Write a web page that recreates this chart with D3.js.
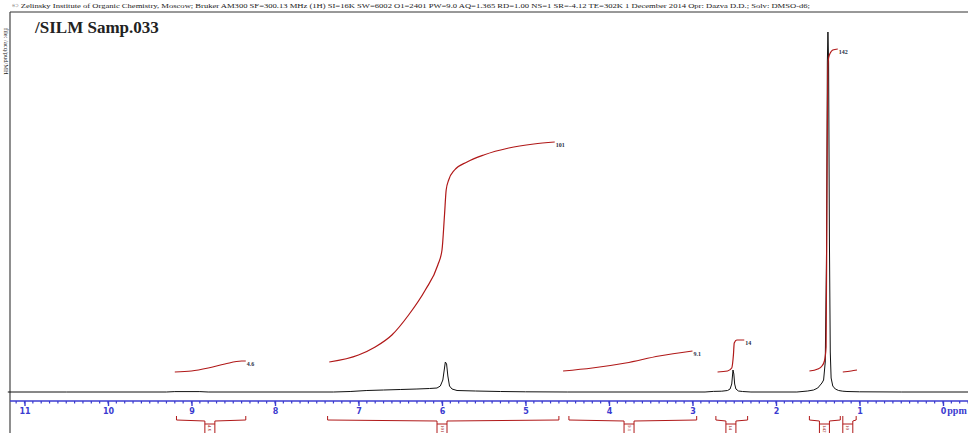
<!DOCTYPE html>
<html>
<head>
<meta charset="utf-8">
<title>/SILM Samp.033</title>
<style>
body { margin: 0; background: #fff; overflow: hidden; }
svg { display: block; }
.hdr { font-family: 'Liberation Serif', serif; font-size: 6.5px; fill: #222; }
.title { font-family: 'Liberation Serif', serif; font-weight: bold; font-size: 17px; fill: #222; }
.tick text { font-family: 'DejaVu Sans', sans-serif; font-weight: bold; font-size: 8px; fill: #3b3bd0; }
.intlab { font-family: 'Liberation Serif', serif; font-weight: bold; font-size: 6px; fill: #2a2f45; }
.brlab { font-family: 'Liberation Serif', serif; font-size: 5px; fill: #a01515; }
</style>
</head>
<body>
<div id="chart"></div>
<script src="https://d3js.org/d3.v7.min.js"></script>
<script>

var headerText = "\u00a9 Zelinsky Institute of Organic Chemistry, Moscow; Bruker AM300 SF=300.13 MHz (1H) SI=16K SW=6002 O1=2401 PW=9.0 AQ=1.365 RD=1.00 NS=1 SR=-4.12 TE=302K   1 December 2014  Opr: Dazva D.D.; Solv: DMSO-d6;";
var titleText = "/SILM Samp.033";
var sideText = "file: /acq/pud/MH";

var tickLabels = [11, 10, 9, 8, 7, 6, 5, 4, 3, 2, 1, 0];

// spectrum: [ppm, height]
var spectrum = [
  [11.2, 0], [10.5, 0], [9.3, 0], [9.2, 0.4], [8.9, 0.4], [8.8, 0], [7.3, 0],
  [7.1, 0.5], [6.9, 1.5], [6.7, 2], [6.5, 2.5], [6.3, 3], [6.15, 3.5], [6.06, 4],
  [6.02, 6], [5.99, 12], [5.97, 24], [5.96, 30], [5.945, 28], [5.93, 16], [5.91, 6],
  [5.88, 3], [5.82, 1.5], [5.6, 1], [5.3, 0.5], [5.0, 0.2], [4.5, 0], [2.85, 0],
  [2.75, 0.6], [2.65, 0.8], [2.58, 1.5], [2.55, 3], [2.53, 8], [2.515, 22], [2.505, 18],
  [2.495, 8], [2.48, 3], [2.45, 1], [2.4, 0.5], [2.3, 0], [1.75, 0], [1.62, 1],
  [1.55, 2], [1.5, 4], [1.47, 7], [1.45, 9], [1.43, 12], [1.41, 30], [1.395, 140],
  [1.385, 330], [1.378, 360], [1.37, 330], [1.36, 150], [1.35, 40], [1.34, 14],
  [1.32, 6], [1.29, 3], [1.25, 1.5], [1.2, 0.8], [1.15, 0.5], [1.0, 0.2], [0.5, 0], [-0.3, 0]
];

// integral curves: [ppm, height]
var integral1 = [[9.2, 20], [9.0, 21], [8.8, 24], [8.6, 28], [8.4, 31], [8.35, 31]];
var integral2 = [[7.35, 30], [7.0, 37], [6.8, 45], [6.6, 57], [6.4, 77], [6.2, 102], [6.05, 127],
  [6.0, 142], [5.97, 177], [5.95, 202], [5.92, 212], [5.85, 222], [5.7, 230], [5.5, 237],
  [5.2, 244], [4.9, 248], [4.65, 250]];
var integral3 = [[4.55, 21], [4.2, 24], [3.8, 29], [3.4, 36], [3.0, 41]];
var integral4 = [[2.7, 20], [2.58, 21], [2.53, 24], [2.51, 37], [2.5, 49], [2.47, 52], [2.38, 52]];
var integral5 = [[1.6, 21], [1.5, 23], [1.45, 26], [1.42, 31], [1.40, 45], [1.39, 192],
  [1.38, 322], [1.37, 334], [1.35, 339], [1.32, 342], [1.26, 343]];
var integral6 = [[1.2, 20], [1.1, 21], [1.03, 22]];
var integralCurves = [integral1, integral2, integral3, integral4, integral5, integral6];
var integralLabels = ["4.6", "101", "9.1", "14", "142", ""];

// bracket ranges below axis: [from, to, centre] in ppm
var bracketRanges = [[9.18, 8.35, 8.78], [7.37, 4.6, 6.0], [4.48, 2.95, 3.76],
  [2.72, 2.34, 2.54], [1.6, 1.23, 1.42], [1.2, 1.04, 1.14]];
var bracketLabels = ["4.6", "101", "9.1", "14", "142", "10"];

var width = 968, height = 433;

var svg = d3.select("#chart").append("svg")
  .attr("width", width)
  .attr("height", height);

var x = d3.scaleLinear().domain([11, 0]).range([24.5, 943]);
var y = d3.scaleLinear().domain([0, 360]).range([392, 32]);

// frame
svg.append("line").attr("x1", 10).attr("x2", width).attr("y1", 12).attr("y2", 12)
  .attr("stroke", "#333").attr("stroke-width", 1);
svg.append("line").attr("x1", 10).attr("x2", 10).attr("y1", 12).attr("y2", height)
  .attr("stroke", "#444").attr("stroke-width", 1.2);

svg.append("text").attr("class", "hdr").attr("x", 12).attr("y", 8)
  .attr("textLength", 798).attr("lengthAdjust", "spacingAndGlyphs")
  .text(headerText);
svg.append("text").attr("class", "hdr")
  .attr("transform", "translate(4,28) rotate(90)").text(sideText);
svg.append("text").attr("class", "title").attr("x", 35).attr("y", 33).text(titleText);

// axis
var minor = d3.range(-3, 112).map(function(d) { return d / 10; });
var axis = d3.axisBottom(x)
  .tickValues(tickLabels)
  .tickFormat(d3.format("d"))
  .tickSize(5)
  .tickPadding(2);
var axisG = svg.append("g").attr("class", "tick-axis").attr("transform", "translate(0,401)");
axisG.selectAll(".minor").data(minor).enter().append("line")
  .attr("x1", function(d) { return x(d); }).attr("x2", function(d) { return x(d); })
  .attr("y1", 0).attr("y2", 2.5)
  .attr("stroke", "#3b3bd0").attr("stroke-width", 1.2);
axisG.call(axis);
axisG.select(".domain").remove();
axisG.append("line").attr("x1", 10).attr("x2", width).attr("y1", 0).attr("y2", 0)
  .attr("stroke", "#3b3bd0").attr("stroke-width", 1.5);
axisG.selectAll(".tick line").attr("stroke", "#3b3bd0").attr("stroke-width", 1.4);
axisG.append("text").attr("x", 957).attr("y", 13)
  .style("font-family", "'Liberation Serif', serif").style("font-weight", "bold")
  .style("font-size", "10px").attr("fill", "#3b3bd0").text("ppm");

// spectrum
var line = d3.line()
  .x(function(d) { return x(d[0]); })
  .y(function(d) { return y(d[1]); });

svg.append("path").datum(spectrum)
  .attr("d", line)
  .attr("fill", "none").attr("stroke", "#111").attr("stroke-width", 1);

// integrals
var intLine = d3.line()
  .x(function(d) { return x(d[0]); })
  .y(function(d) { return y(d[1]); })
  .curve(d3.curveMonotoneX);

integralCurves.forEach(function(c, i) {
  svg.append("path").datum(c)
    .attr("d", intLine)
    .attr("fill", "none").attr("stroke", "#b01818").attr("stroke-width", 1.2);
  var last = c[c.length - 1];
  svg.append("text").attr("class", "intlab")
    .attr("x", x(last[0]) + 1).attr("y", y(last[1]) + 5)
    .text(integralLabels[i]);
});

// brackets under axis
var br = svg.append("g").attr("class", "brackets");
bracketRanges.forEach(function(r, i) {
  var x0 = x(r[0]), x1 = x(r[1]), xc = x(r[2]);
  var p = "M" + x0 + ",416 V420 L" + (xc - 5) + ",421 V424 L" + (xc - 5) + ",436" +
    " M" + x1 + ",416 V420 L" + (xc + 5) + ",421 V424 L" + (xc + 5) + ",436";
  br.append("path").attr("d", p)
    .attr("fill", "none").attr("stroke", "#b01818").attr("stroke-width", 1);
  br.append("line").attr("x1", xc - 5).attr("x2", xc + 5).attr("y1", 424).attr("y2", 424)
    .attr("stroke", "#b01818").attr("stroke-width", 1);
  br.append("text").attr("class", "brlab")
    .attr("transform", "translate(" + (xc - 1.5) + ",425) rotate(90)")
    .text(bracketLabels[i]);
});

</script>
</body>
</html>
